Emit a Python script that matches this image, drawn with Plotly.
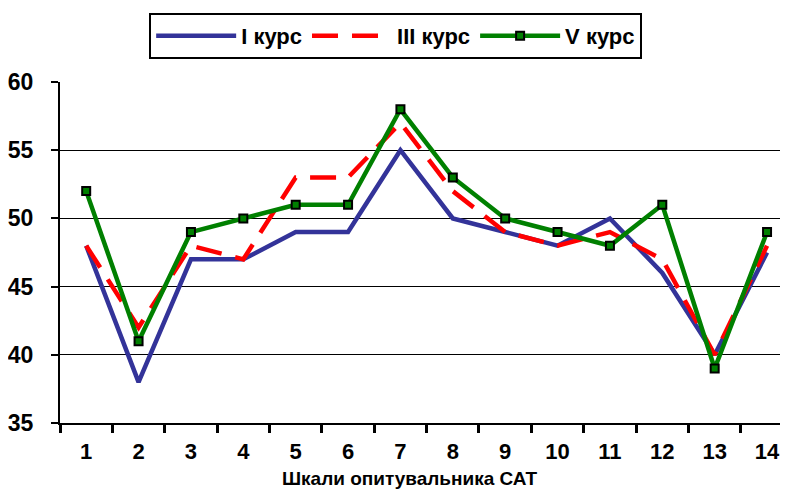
import plotly.graph_objects as go

scales = list(range(1, 15))
tick_labels = [str(i) for i in scales]
course1 = [48, 38, 47, 47, 49, 49, 55, 50, 49, 48, 50, 46, 40, 47.5]
course3 = [48, 42, 48, 47, 53, 53, 57, 52, 49, 48, 49, 47, 40, 48]
course5 = [52, 41, 49, 50, 51, 51, 58, 53, 50, 49, 48, 51, 39, 49]
y_ticks = [35, 40, 45, 50, 55, 60]
x_title = "Шкали опитувальника САТ"

FONT = "Liberation Sans, Arial, sans-serif"

fig = go.Figure()
fig.add_trace(go.Scatter(x=scales, y=course1, name="I курс", mode="lines",
                         line=dict(color="#333399", width=4.5)))
fig.add_trace(go.Scatter(x=scales, y=course3, name="III курс", mode="lines",
                         line=dict(color="#FF0000", width=4.5, dash="26px,14px")))
fig.add_trace(go.Scatter(x=scales, y=course5, name="V курс", mode="lines+markers",
                         line=dict(color="#008000", width=4.5),
                         marker=dict(symbol="square", size=8, color="#008000",
                                     line=dict(color="black", width=2))))

fig.add_annotation(text=x_title, xref="paper", yref="paper",
                   x=0.481, y=-0.162, xanchor="center", yanchor="middle",
                   showarrow=False,
                   font=dict(size=19, family=FONT, weight="bold", color="black"))

fig.update_layout(
    width=780, height=485,
    margin=dict(l=52, r=0, t=74, b=70, autoexpand=False),
    paper_bgcolor="white", plot_bgcolor="white",
    font=dict(family=FONT, color="black"),
    showlegend=True,
    legend=dict(orientation="h", x=0.497, xanchor="center", xref="container",
                y=0.99, yanchor="top", yref="container",
                bordercolor="black", borderwidth=2, bgcolor="white",
                font=dict(size=22, family=FONT, weight="bold"),
                itemwidth=80, tracegroupgap=0),
    xaxis=dict(range=[0.5, 14.4], tickvals=scales, ticktext=tick_labels,
               ticks="", showgrid=False, showline=True, linecolor="black",
               linewidth=2, zeroline=False, automargin=False,
               ticklabelstandoff=8,
               tickfont=dict(size=22, family=FONT, weight="bold"),
               minor=dict(tickvals=[i + 0.5 for i in range(0, 14)],
                          ticks="outside", ticklen=8, tickwidth=2.5,
                          tickcolor="black", showgrid=False)),
    yaxis=dict(range=[35, 60], tickvals=y_ticks, ticks="outside", ticklen=7,
               tickwidth=2, tickcolor="black", automargin=False,
               ticklabelstandoff=13,
               showgrid=True, gridcolor="black", gridwidth=1,
               showline=True, linecolor="black", linewidth=2, zeroline=False,
               tickfont=dict(size=23, family=FONT, weight="bold")),
)

fig.write_html("out.html")
